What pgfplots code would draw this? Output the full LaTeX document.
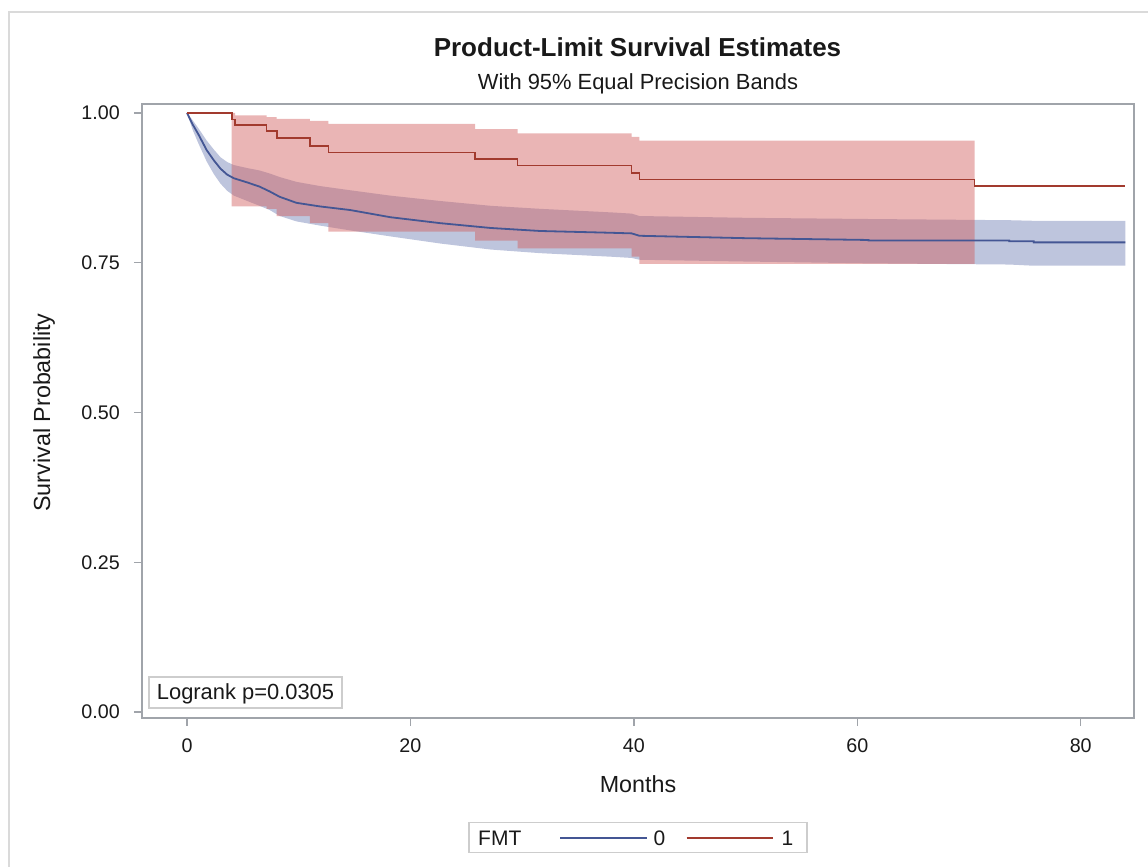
\documentclass[border=0pt]{standalone}
\usepackage{pgfplots}
\pgfplotsset{compat=1.18}
\usepackage{fontspec}
\setmainfont{Liberation Sans}
\definecolor{blueline}{RGB}{68,86,148}
\definecolor{redline}{RGB}{162,58,46}
\definecolor{bluefill}{RGB}{111,126,179}
\definecolor{redfill}{RGB}{208,91,91}
\definecolor{axgray}{RGB}{160,164,170}
\definecolor{boxgray}{RGB}{205,205,205}
\definecolor{txt}{RGB}{25,25,25}
\begin{document}
\begin{tikzpicture}
\path[use as bounding box] (0,0) rectangle (1148bp,867bp);
\draw[draw={rgb,255:red,218;green,218;blue,218}, line width=2.5bp] (9bp,0bp) -- (9bp,855bp) -- (1148bp,855bp);
\begin{axis}[
  at={(142bp,149bp)}, anchor=south west,
  scale only axis, width=992bp, height=614bp,
  xmin=-4.03, xmax=84.77, ymin=-0.010, ymax=1.015,
  xtick={0,20,40,60,80}, ytick={0,0.25,0.5,0.75,1},
  tick pos=left, tick align=outside, major tick length=8bp,
  axis line style={axgray, line width=1.3bp},
  every tick/.style={axgray, line width=1.3bp},
  tick label style={font=\fontsize{19.7bp}{22bp}\selectfont, text=txt, /pgf/number format/assume math mode=true},
  yticklabel style={anchor=east, inner sep=0pt, xshift=-14bp, /pgf/number format/.cd, fixed, fixed zerofill, precision=2},
  xticklabel style={anchor=base, inner sep=0pt, yshift=-27bp},
  clip=true,
]
% blue confidence band
\addplot[fill=bluefill, fill opacity=0.45, draw=none] coordinates {
(0,1.0)(0.5,0.988)(1.0,0.975)(1.76,0.954)(2.4,0.939)(3.0,0.926)(3.6,0.918)(4.2,0.913)(5.4,0.908)(6.5,0.904)(7.4,0.899)(8.3,0.893)(9.8,0.885)(11.9,0.878)(14.6,0.871)(18.2,0.862)(22.7,0.853)(27.2,0.845)(31.6,0.840)(38,0.834)(39.8,0.832)(40.5,0.828)(50,0.825)(61,0.823)(73.6,0.821)(75.8,0.820)(84,0.820)
(84,0.745)(75.8,0.745)(73.6,0.747)(61,0.749)(50,0.752)(40.5,0.755)(39.8,0.758)(38,0.760)(31.6,0.766)(27.2,0.772)(22.7,0.782)(18.2,0.794)(14.6,0.804)(11.9,0.812)(9.8,0.819)(8.3,0.828)(7.4,0.838)(6.5,0.845)(5.4,0.853)(4.2,0.862)(3.6,0.870)(3.0,0.882)(2.4,0.898)(1.76,0.919)(1.0,0.950)(0.5,0.972)(0,1.0)
} -- cycle;
% red confidence band
\addplot[fill=redfill, fill opacity=0.45, draw=none] coordinates {
(4.0,1.0)(4.3,1.0)(4.3,0.996)(7.13,0.996)(7.13,0.993)(8.03,0.993)(8.03,0.990)(11.0,0.990)(11.0,0.987)(12.65,0.987)(12.65,0.982)(25.8,0.982)(25.8,0.973)(29.6,0.973)(29.6,0.966)(39.8,0.966)(39.8,0.960)(40.5,0.960)(40.5,0.954)(70.5,0.954)
(70.5,0.748)(40.5,0.748)(40.5,0.760)(39.8,0.760)(39.8,0.774)(29.6,0.774)(29.6,0.787)(25.8,0.787)(25.8,0.802)(12.65,0.802)(12.65,0.816)(11.0,0.816)(11.0,0.828)(8.03,0.828)(8.03,0.840)(7.13,0.840)(7.13,0.844)(4.0,0.844)
} -- cycle;
% FMT = 0
\addplot[blueline, line width=1.8bp] coordinates {
(0,1.0)(0.5,0.981)(1.0,0.965)(1.76,0.938)(2.4,0.921)(3.0,0.907)(3.6,0.897)(4.2,0.891)(5.4,0.884)(6.5,0.877)(7.4,0.869)(8.3,0.860)(9.8,0.850)(11.9,0.844)(14.6,0.838)(18.2,0.826)(22.7,0.816)(27.2,0.808)(31.6,0.803)(38,0.800)(39.8,0.799)(40.5,0.795)(50,0.791)(61,0.788)(61,0.787)(73.6,0.787)(73.6,0.786)(75.8,0.786)(75.8,0.784)(84,0.784)
};
% FMT = 1
\addplot[redline, line width=1.6bp, const plot] coordinates {
(0,1.0)(4.0,0.989)(4.3,0.980)(7.13,0.970)(8.03,0.958)(11.0,0.945)(12.65,0.934)(25.8,0.923)(29.6,0.912)(39.8,0.900)(40.5,0.889)(70.5,0.878)(84,0.878)
};
\end{axis}
% titles
\node[anchor=base, text=txt, font=\bfseries\fontsize{26bp}{30bp}\selectfont] at (637.5bp,810.3bp) {Product-Limit Survival Estimates};
\node[anchor=base, text=txt, font=\fontsize{21.9bp}{25bp}\selectfont] at (638bp,777bp) {With 95\% Equal Precision Bands};
% axis labels
\node[anchor=base, text=txt, font=\fontsize{23.3bp}{26bp}\selectfont] at (638bp,74bp) {Months};
\node[anchor=base, rotate=90, text=txt, font=\fontsize{23.3bp}{26bp}\selectfont] at (50bp,454.5bp) {Survival Probability};
% logrank inset
\draw[boxgray, line width=1.3bp] (149bp,159bp) rectangle (342bp,190bp);
\node[anchor=base, text=txt, font=\fontsize{21.9bp}{25bp}\selectfont] at (245.5bp,167bp) {Logrank p=0.0305};
% legend
\draw[boxgray, line width=1.3bp] (469bp,14.5bp) rectangle (807bp,44.5bp);
\node[anchor=base west, inner sep=0pt, text=txt, font=\fontsize{21bp}{24bp}\selectfont] at (478bp,22bp) {FMT};
\draw[blueline, line width=1.6bp] (560bp,28.7bp) -- (646.7bp,28.7bp);
\node[anchor=base west, inner sep=0pt, text=txt, font=\fontsize{21bp}{24bp}\selectfont] at (653.5bp,22bp) {0};
\draw[redline, line width=1.6bp] (686.7bp,28.7bp) -- (773.3bp,28.7bp);
\node[anchor=base west, inner sep=0pt, text=txt, font=\fontsize{21bp}{24bp}\selectfont] at (781.5bp,22bp) {1};
\end{tikzpicture}
\end{document}
